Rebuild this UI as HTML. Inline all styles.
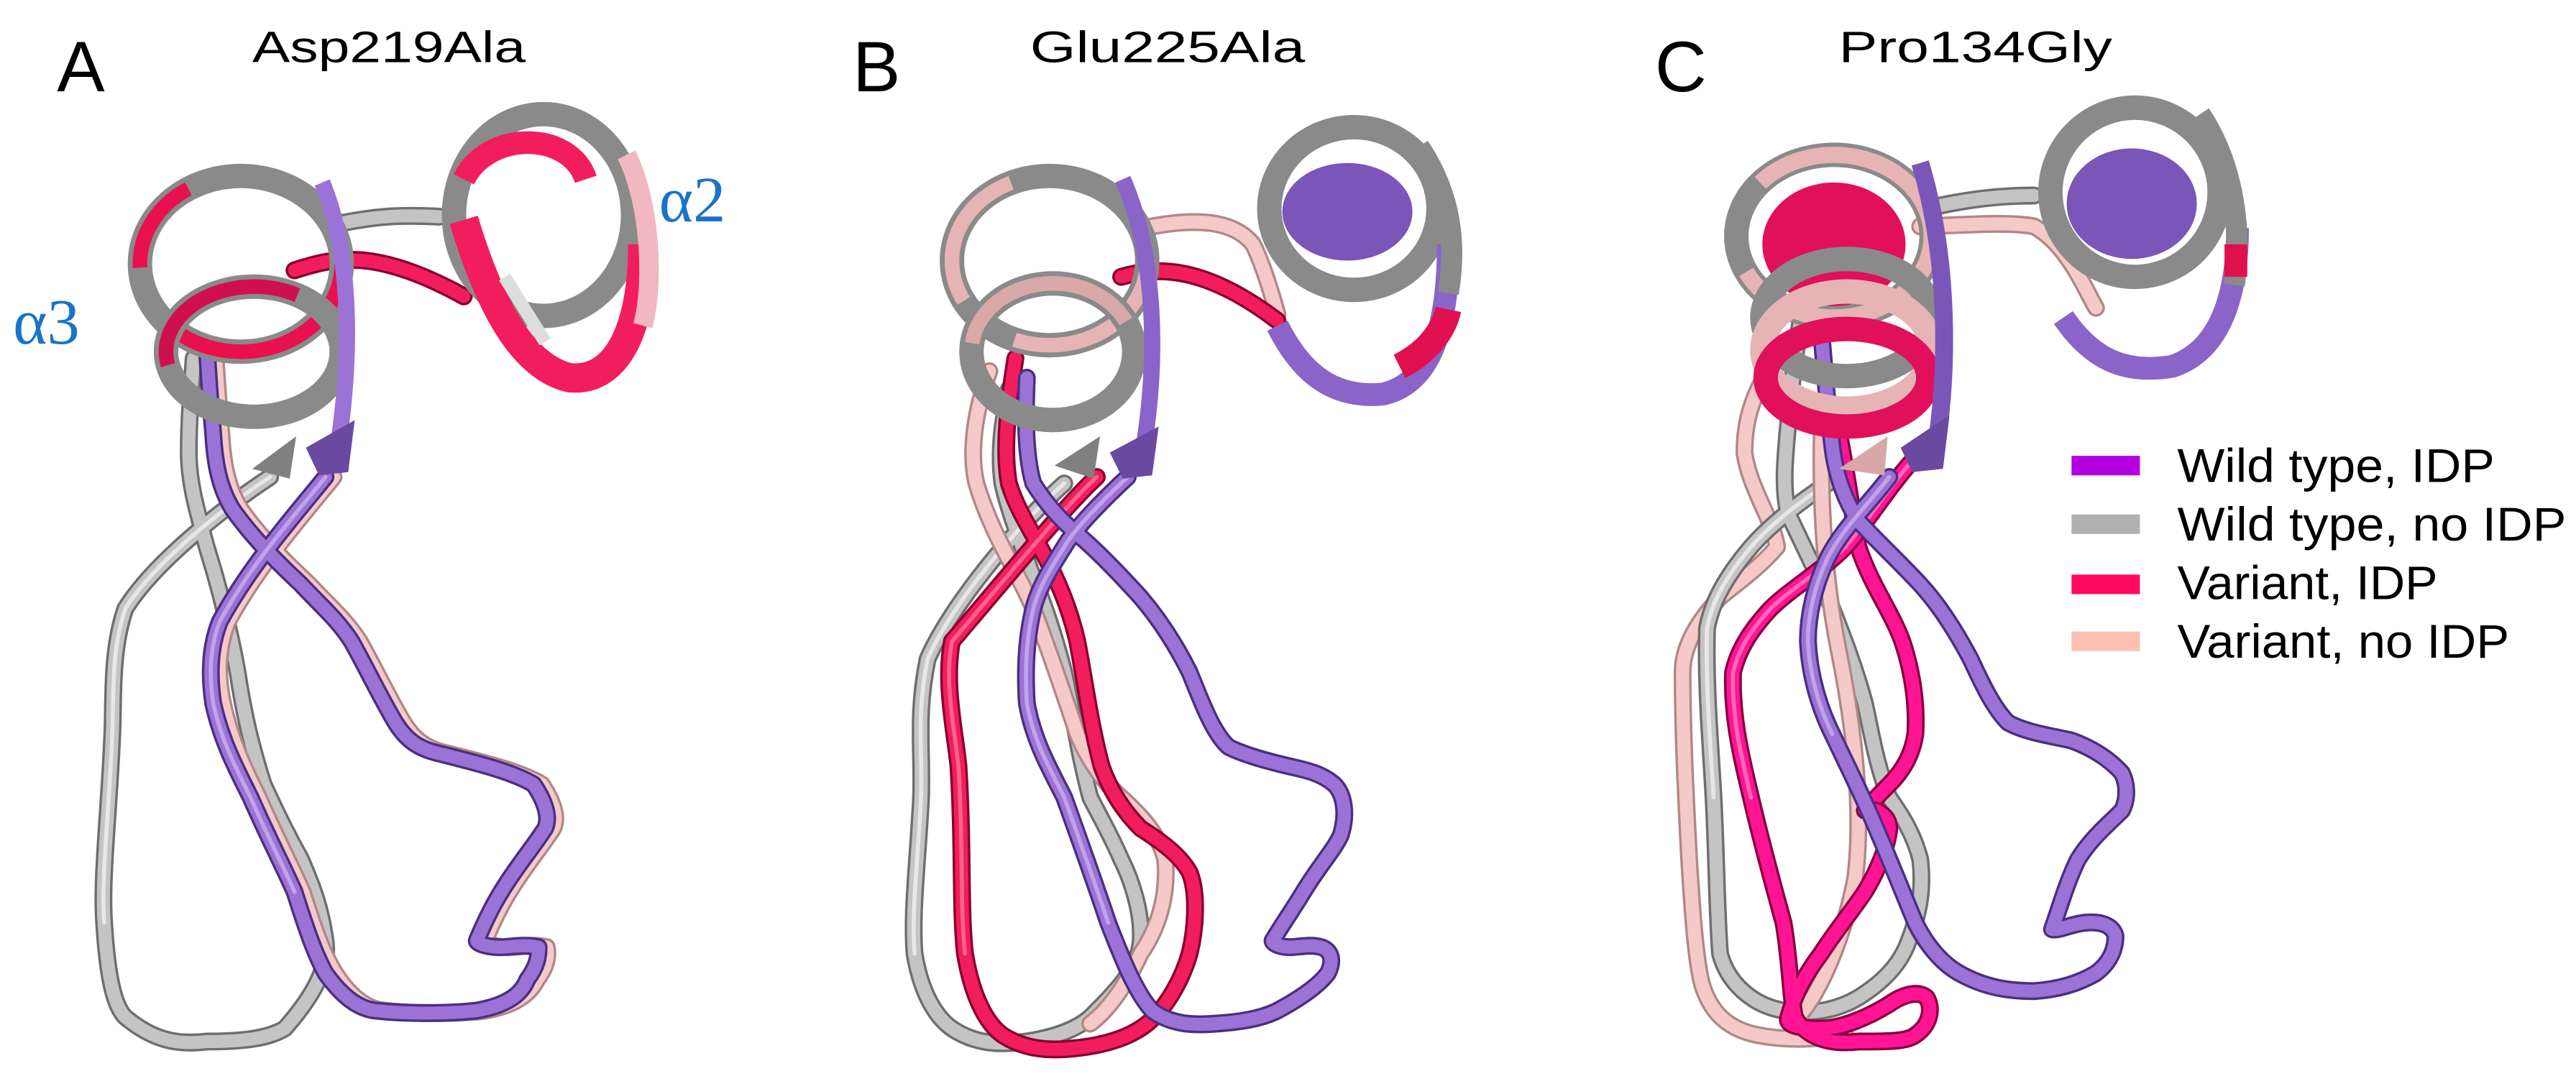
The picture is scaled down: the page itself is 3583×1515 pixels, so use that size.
<!DOCTYPE html>
<html><head><meta charset="utf-8"><style>
html,body{margin:0;padding:0;background:#fff;overflow:hidden}
svg{display:block}
.o{fill:none;stroke-linecap:round;stroke-linejoin:round;stroke-width:11}
.m{fill:none;stroke-linecap:round;stroke-linejoin:round;stroke-width:8}
.h{fill:none;stroke-linecap:round;stroke-linejoin:round;stroke-width:2.5;opacity:.6}
.g .o{stroke:#6e6e6e}.g .m{stroke:#c4c4c4}.g .h{stroke:#fff}
.p .o{stroke:#4a2f80}.p .m{stroke:#9b72d6}.p .h{stroke:#d8c4f5}
.r .o{stroke:#8a0030}.r .m{stroke:#f21d5c}.r .h{stroke:#ff8fb0}
.q .o{stroke:#8a0040}.q .m{stroke:#ff1493}.q .h{stroke:#ff9fd0}
.k .o{stroke:#b08888}.k .m{stroke:#f6c9c9}.k .h{stroke:#fff}
.t{font-family:"Liberation Sans",sans-serif;fill:#000}
.hl{fill:none;stroke-width:15}
</style></head><body>
<svg width="3583" height="1515" viewBox="0 0 1583 669" xmlns="http://www.w3.org/2000/svg">

<!-- ===== Panel A ===== -->
<g class="g"><path class="o" d="M210,137 C235,132 250,132 270,133"/><path class="m" d="M210,137 C235,132 250,132 270,133"/></g>
<g class="r"><path class="o" d="M181,166 C205,158 231,152 285,182"/><path class="m" d="M181,166 C205,158 231,152 285,182"/></g>
<g class="g"><path class="o" d="M166,293 C140,310 95,345 77,374 C68,400 70,430 69,451 C67,500 62,540 64,567 C66,600 70,618 77,625 C95,640 110,642 127,640 C150,640 165,638 175,632 C190,615 203,595 200,578 C197,555 190,540 185,528 C175,510 168,495 162,482 C155,460 150,440 146,413 C140,380 133,355 127,336 C120,310 116,295 116,278 C116,255 118,235 119,220"/><path class="m" d="M166,293 C140,310 95,345 77,374 C68,400 70,430 69,451 C67,500 62,540 64,567 C66,600 70,618 77,625 C95,640 110,642 127,640 C150,640 165,638 175,632 C190,615 203,595 200,578 C197,555 190,540 185,528 C175,510 168,495 162,482 C155,460 150,440 146,413 C140,380 133,355 127,336 C120,310 116,295 116,278 C116,255 118,235 119,220"/><path class="h" d="M166,293 C140,310 95,345 77,374 C68,400 70,430 69,451 C67,500 62,540 64,567"/></g>
<g class="k"><path class="o" d="M205,293 C190,312 160,345 140,382 C133,400 134,418 137,432 C142,455 150,472 159,490 C170,515 178,530 186,548 C193,570 198,585 206,598 C215,612 225,620 236,621 C255,623 280,623 298,621 C315,618 325,612 330,602 C336,594 337,588 336,582 C327,580 318,582 312,582 C304,582 298,580 298,578 C303,566 308,556 313,548 C322,533 333,520 340,509 C344,500 337,488 333,482 C320,474 295,468 275,463 C262,460 255,455 248,444 C238,427 230,410 221,394 C212,380 200,370 190,359 C175,345 160,330 148,313 C140,300 137,285 136,266 C134,245 133,228 132,212"/><path class="m" d="M205,293 C190,312 160,345 140,382 C133,400 134,418 137,432 C142,455 150,472 159,490 C170,515 178,530 186,548 C193,570 198,585 206,598 C215,612 225,620 236,621 C255,623 280,623 298,621 C315,618 325,612 330,602 C336,594 337,588 336,582 C327,580 318,582 312,582 C304,582 298,580 298,578 C303,566 308,556 313,548 C322,533 333,520 340,509 C344,500 337,488 333,482 C320,474 295,468 275,463 C262,460 255,455 248,444 C238,427 230,410 221,394 C212,380 200,370 190,359 C175,345 160,330 148,313 C140,300 137,285 136,266 C134,245 133,228 132,212"/></g>
<g class="p"><path class="o" d="M200,293 C185,312 155,345 135,382 C128,400 129,418 131,432 C136,455 145,472 154,490 C165,515 173,530 181,548 C188,570 193,585 200,598 C210,612 220,620 231,621 C250,623 275,623 293,621 C310,618 320,612 324,602 C330,594 331,588 331,582 C322,580 313,582 308,582 C300,582 293,580 293,578 C298,566 303,556 308,548 C317,533 328,520 335,509 C339,500 332,488 328,482 C315,474 290,468 270,463 C257,460 250,455 243,444 C233,427 225,410 216,394 C207,380 195,370 185,359 C170,345 155,330 143,313 C135,300 132,285 131,266 C129,245 128,228 127,212"/><path class="m" d="M200,293 C185,312 155,345 135,382 C128,400 129,418 131,432 C136,455 145,472 154,490 C165,515 173,530 181,548 C188,570 193,585 200,598 C210,612 220,620 231,621 C250,623 275,623 293,621 C310,618 320,612 324,602 C330,594 331,588 331,582 C322,580 313,582 308,582 C300,582 293,580 293,578 C298,566 303,556 308,548 C317,533 328,520 335,509 C339,500 332,488 328,482 C315,474 290,468 270,463 C257,460 250,455 243,444 C233,427 225,410 216,394 C207,380 195,370 185,359 C170,345 155,330 143,313 C135,300 132,285 131,266 C129,245 128,228 127,212"/><path class="h" d="M200,293 C185,312 155,345 135,382 C128,400 129,418 131,432 C136,455 145,472 154,490 C165,515 173,530 181,548"/></g>
<ellipse cx="148" cy="162" rx="62" ry="54" class="hl" stroke="#8a8a8a"/>
<ellipse cx="148" cy="162" rx="62" ry="54" fill="none" stroke="#e8104e" stroke-width="9" stroke-dasharray="130 50 60 200"/>
<ellipse cx="156" cy="216" rx="54" ry="40" class="hl" stroke="#8a8a8a"/>
<ellipse cx="156" cy="216" rx="54" ry="40" fill="none" stroke="#d0104e" stroke-width="9" stroke-dasharray="0 140 110 200"/>
<path d="M198,112 C218,160 216,230 205,290" fill="none" stroke="#9b72d6" stroke-width="10"/>
<polygon points="188,275 218,258 214,290 196,292" fill="#6a4aa0"/>
<polygon points="155,288 182,268 178,294" fill="#808080"/>
<ellipse cx="334" cy="132" rx="55" ry="62" class="hl" stroke="#8a8a8a"/>
<path d="M285,135 C300,185 320,225 350,232 C380,235 395,200 395,150" fill="none" stroke="#f21d5c" stroke-width="18"/>
<path d="M285,110 C300,80 350,80 360,110" fill="none" stroke="#f21d5c" stroke-width="14"/>
<path d="M385,95 C400,125 402,175 395,200" fill="none" stroke="#f2b8c0" stroke-width="12"/>
<path d="M310,170 L335,210" stroke="#ddd" stroke-width="8"/>

<!-- ===== Panel B ===== -->
<g class="k"><path class="o" d="M708,139 C735,134 758,135 770,150 C775,160 780,175 785,193"/><path class="m" d="M708,139 C735,134 758,135 770,150 C775,160 780,175 785,193"/></g>
<g class="r"><path class="o" d="M689,170 C710,164 739,162 785,197"/><path class="m" d="M689,170 C710,164 739,162 785,197"/></g>
<g class="g"><path class="o" d="M654,297 C630,318 585,370 570,405 C563,440 567,460 566,490 C564,530 560,560 562,586 C566,610 575,625 585,632 C600,642 615,642 631,640 C650,637 662,632 670,625 C685,610 700,595 701,578 C702,560 695,540 689,528 C682,512 675,500 670,490 C662,460 660,440 654,413 C648,390 642,372 635,355 C628,335 620,315 616,297 C613,275 617,255 620,239"/><path class="m" d="M654,297 C630,318 585,370 570,405 C563,440 567,460 566,490 C564,530 560,560 562,586 C566,610 575,625 585,632 C600,642 615,642 631,640 C650,637 662,632 670,625 C685,610 700,595 701,578 C702,560 695,540 689,528 C682,512 675,500 670,490 C662,460 660,440 654,413 C648,390 642,372 635,355 C628,335 620,315 616,297 C613,275 617,255 620,239"/><path class="h" d="M654,297 C630,318 585,370 570,405 C563,440 567,460 566,490 C564,530 560,560 562,586"/></g>
<g class="k"><path class="o" d="M608,228 C598,255 596,280 600,297 C610,330 625,350 635,374 C645,400 655,430 662,451 C670,470 680,482 689,490 C700,500 712,512 716,528 C718,550 712,570 701,586 C692,605 682,620 670,629"/><path class="m" d="M608,228 C598,255 596,280 600,297 C610,330 625,350 635,374 C645,400 655,430 662,451 C670,470 680,482 689,490 C700,500 712,512 716,528 C718,550 712,570 701,586 C692,605 682,620 670,629"/></g>
<g class="r"><path class="o" d="M674,293 C655,310 610,365 585,394 C580,420 587,450 589,471 C592,520 590,560 593,586 C597,610 605,628 616,636 C630,645 645,646 662,644 C680,642 695,637 705,629 C718,618 727,600 731,586 C735,570 736,548 731,536 C725,525 712,516 701,509 C690,498 682,485 677,471 C670,445 667,420 662,394 C657,372 648,352 639,336 C630,320 624,310 620,297 C616,275 620,245 624,220"/><path class="m" d="M674,293 C655,310 610,365 585,394 C580,420 587,450 589,471 C592,520 590,560 593,586 C597,610 605,628 616,636 C630,645 645,646 662,644 C680,642 695,637 705,629 C718,618 727,600 731,586 C735,570 736,548 731,536 C725,525 712,516 701,509 C690,498 682,485 677,471 C670,445 667,420 662,394 C657,372 648,352 639,336 C630,320 624,310 620,297 C616,275 620,245 624,220"/><path class="h" d="M674,293 C655,310 610,365 585,394 C580,420 587,450 589,471 C592,520 590,560 593,586"/></g>
<g class="p"><path class="o" d="M693,293 C680,305 660,325 654,336 C645,350 638,362 635,374 C630,395 630,415 631,432 C635,455 645,472 654,490 C663,515 672,540 681,567 C690,590 698,610 708,621 C720,630 735,630 747,629 C762,628 775,626 785,621 C798,614 810,606 816,598 C820,590 818,584 812,582 C805,580 798,582 793,582 C787,582 782,580 782,578 C788,568 795,558 801,548 C810,533 820,522 824,513 C828,500 826,488 820,482 C812,475 802,473 793,471 C780,468 765,464 755,459 C745,450 738,430 731,413 C722,395 712,380 701,367 C690,355 676,340 662,328 C650,318 642,308 635,297 C630,280 630,255 631,232"/><path class="m" d="M693,293 C680,305 660,325 654,336 C645,350 638,362 635,374 C630,395 630,415 631,432 C635,455 645,472 654,490 C663,515 672,540 681,567 C690,590 698,610 708,621 C720,630 735,630 747,629 C762,628 775,626 785,621 C798,614 810,606 816,598 C820,590 818,584 812,582 C805,580 798,582 793,582 C787,582 782,580 782,578 C788,568 795,558 801,548 C810,533 820,522 824,513 C828,500 826,488 820,482 C812,475 802,473 793,471 C780,468 765,464 755,459 C745,450 738,430 731,413 C722,395 712,380 701,367 C690,355 676,340 662,328 C650,318 642,308 635,297 C630,280 630,255 631,232"/><path class="h" d="M693,293 C680,305 660,325 654,336 C645,350 638,362 635,374 C630,395 630,415 631,432 C635,455 645,472 654,490 C663,515 672,540 681,567"/></g>
<ellipse cx="645" cy="160" rx="60" ry="52" class="hl" stroke="#8a8a8a"/>
<ellipse cx="645" cy="160" rx="60" ry="52" fill="none" stroke="#e6b4b4" stroke-width="9" stroke-dasharray="110 40 90 200"/>
<ellipse cx="647" cy="216" rx="50" ry="42" class="hl" stroke="#8a8a8a"/>
<ellipse cx="647" cy="216" rx="50" ry="42" fill="none" stroke="#d9a8a8" stroke-width="9" stroke-dasharray="0 150 120 200"/>
<path d="M690,110 C712,160 712,230 700,290" fill="none" stroke="#8a64c8" stroke-width="10"/>
<polygon points="682,278 712,262 708,292 690,294" fill="#6a4aa0"/>
<polygon points="648,286 676,268 672,294" fill="#808080"/>
<ellipse cx="832" cy="128" rx="52" ry="50" class="hl" stroke="#8a8a8a"/>
<ellipse cx="828" cy="130" rx="40" ry="30" fill="#7a56b8"/>
<path d="M785,200 C800,230 820,245 850,242 C880,235 890,200 890,150" fill="none" stroke="#8a64c8" stroke-width="14"/>
<path d="M860,225 C880,215 888,200 890,190" fill="none" stroke="#e0104e" stroke-width="16"/>
<path d="M872,90 C892,120 895,150 890,180" fill="none" stroke="#8a8a8a" stroke-width="13"/>

<!-- ===== Panel C ===== -->
<g class="g"><path class="o" d="M1184,128 C1210,122 1230,120 1250,120"/><path class="m" d="M1184,128 C1210,122 1230,120 1250,120"/></g>
<g class="k"><path class="o" d="M1180,139 C1210,138 1235,136 1250,139 C1270,150 1280,175 1288,189"/><path class="m" d="M1180,139 C1210,138 1235,136 1250,139 C1270,150 1280,175 1288,189"/></g>
<g class="k"><path class="o" d="M1084,232 C1074,250 1072,265 1072,278 C1075,300 1090,320 1092,336 C1080,350 1065,360 1057,367 C1040,385 1034,400 1034,413 C1034,450 1036,490 1038,528 C1040,560 1042,590 1046,605 C1052,625 1065,633 1080,636 C1100,640 1118,638 1134,636"/><path class="m" d="M1084,232 C1074,250 1072,265 1072,278 C1075,300 1090,320 1092,336 C1080,350 1065,360 1057,367 C1040,385 1034,400 1034,413 C1034,450 1036,490 1038,528 C1040,560 1042,590 1046,605 C1052,625 1065,633 1080,636 C1100,640 1118,638 1134,636"/></g>
<g class="g"><path class="o" d="M1134,290 C1110,305 1090,320 1076,336 C1060,355 1052,370 1049,386 C1048,420 1051,455 1053,490 C1055,530 1055,560 1057,586 C1062,605 1078,618 1096,621 C1115,624 1130,620 1142,613 C1158,603 1168,592 1173,578 C1180,560 1182,545 1180,528 C1176,512 1168,500 1161,490 C1153,470 1150,450 1146,432 C1140,410 1133,392 1126,374 C1118,355 1108,335 1099,316 C1095,300 1097,280 1099,259 C1101,235 1104,212 1107,193"/><path class="m" d="M1134,290 C1110,305 1090,320 1076,336 C1060,355 1052,370 1049,386 C1048,420 1051,455 1053,490 C1055,530 1055,560 1057,586 C1062,605 1078,618 1096,621 C1115,624 1130,620 1142,613 C1158,603 1168,592 1173,578 C1180,560 1182,545 1180,528 C1176,512 1168,500 1161,490 C1153,470 1150,450 1146,432 C1140,410 1133,392 1126,374 C1118,355 1108,335 1099,316 C1095,300 1097,280 1099,259 C1101,235 1104,212 1107,193"/><path class="h" d="M1134,290 C1110,305 1090,320 1076,336 C1060,355 1052,370 1049,386 C1048,420 1051,455 1053,490"/></g>
<g class="k"><path class="o" d="M1120,250 C1118,300 1120,350 1130,400 C1140,450 1145,500 1140,540 C1132,580 1118,610 1105,625"/><path class="m" d="M1120,250 C1118,300 1120,350 1130,400 C1140,450 1145,500 1140,540 C1132,580 1118,610 1105,625"/></g>
<g class="q"><path class="o" d="M1130,266 C1135,290 1138,315 1142,336 C1150,360 1162,375 1169,394 C1176,415 1178,435 1177,451 C1175,465 1168,475 1161,482 C1155,488 1150,493 1146,498"/><path class="m" d="M1130,266 C1135,290 1138,315 1142,336 C1150,360 1162,375 1169,394 C1176,415 1178,435 1177,451 C1175,465 1168,475 1161,482 C1155,488 1150,493 1146,498"/></g>
<g class="q"><path class="o" d="M1176,282 C1160,300 1148,320 1134,336 C1118,352 1100,362 1088,374 C1075,388 1068,400 1065,413 C1064,440 1070,465 1076,490 C1083,520 1090,545 1096,567 C1100,590 1100,610 1103,625 C1110,638 1125,642 1142,640 C1160,640 1172,640 1177,636 C1186,630 1188,620 1184,613 C1178,608 1168,612 1161,617 C1148,625 1132,632 1119,632 C1105,632 1097,630 1099,625 C1103,610 1110,598 1119,586 C1128,572 1138,560 1146,548 C1154,535 1160,520 1161,509 C1161,503 1157,500 1153,498"/><path class="m" d="M1176,282 C1160,300 1148,320 1134,336 C1118,352 1100,362 1088,374 C1075,388 1068,400 1065,413 C1064,440 1070,465 1076,490 C1083,520 1090,545 1096,567 C1100,590 1100,610 1103,625 C1110,638 1125,642 1142,640 C1160,640 1172,640 1177,636 C1186,630 1188,620 1184,613 C1178,608 1168,612 1161,617 C1148,625 1132,632 1119,632 C1105,632 1097,630 1099,625 C1103,610 1110,598 1119,586 C1128,572 1138,560 1146,548 C1154,535 1160,520 1161,509 C1161,503 1157,500 1153,498"/><path class="h" d="M1176,282 C1160,300 1148,320 1134,336 C1118,352 1100,362 1088,374 C1075,388 1068,400 1065,413 C1064,440 1070,465 1076,490"/></g>
<g class="p"><path class="o" d="M1161,293 C1148,310 1132,325 1123,343 C1115,360 1111,378 1111,394 C1112,415 1118,435 1126,451 C1135,470 1145,490 1153,509 C1162,530 1170,550 1177,567 C1185,583 1195,593 1204,598 C1220,607 1235,609 1250,609 C1265,608 1278,604 1288,598 C1296,592 1300,584 1300,575 C1298,568 1290,566 1281,567 C1272,568 1265,572 1261,571 C1265,560 1270,542 1277,528 C1285,515 1296,506 1304,498 C1308,490 1307,481 1304,475 C1295,465 1284,459 1273,455 C1260,452 1245,450 1234,444 C1225,435 1218,420 1211,405 C1202,388 1192,372 1180,359 C1168,346 1154,333 1142,320 C1134,308 1128,292 1126,274 C1123,250 1121,225 1119,201"/><path class="m" d="M1161,293 C1148,310 1132,325 1123,343 C1115,360 1111,378 1111,394 C1112,415 1118,435 1126,451 C1135,470 1145,490 1153,509 C1162,530 1170,550 1177,567 C1185,583 1195,593 1204,598 C1220,607 1235,609 1250,609 C1265,608 1278,604 1288,598 C1296,592 1300,584 1300,575 C1298,568 1290,566 1281,567 C1272,568 1265,572 1261,571 C1265,560 1270,542 1277,528 C1285,515 1296,506 1304,498 C1308,490 1307,481 1304,475 C1295,465 1284,459 1273,455 C1260,452 1245,450 1234,444 C1225,435 1218,420 1211,405 C1202,388 1192,372 1180,359 C1168,346 1154,333 1142,320 C1134,308 1128,292 1126,274 C1123,250 1121,225 1119,201"/><path class="h" d="M1161,293 C1148,310 1132,325 1123,343 C1115,360 1111,378 1111,394 C1112,415 1118,435 1126,451"/></g>
<ellipse cx="1127" cy="145" rx="60" ry="50" class="hl" stroke="#8a8a8a"/>
<ellipse cx="1127" cy="150" rx="44" ry="38" fill="#e0105a"/>
<ellipse cx="1127" cy="145" rx="60" ry="50" fill="none" stroke="#e6b4b4" stroke-width="10" stroke-dasharray="150 60"/>
<ellipse cx="1135" cy="195" rx="52" ry="36" class="hl" stroke="#8a8a8a"/>
<ellipse cx="1135" cy="215" rx="52" ry="36" class="hl" stroke="#e6b4b4"/>
<ellipse cx="1135" cy="232" rx="50" ry="30" class="hl" stroke="#e0105a"/>
<path d="M1180,100 C1198,160 1198,230 1188,285" fill="none" stroke="#7a56b8" stroke-width="11"/>
<polygon points="1168,275 1198,255 1194,288 1175,290" fill="#6a4aa0"/>
<polygon points="1130,288 1160,268 1158,292" fill="#d8a8a8"/>
<ellipse cx="1312" cy="118" rx="52" ry="52" class="hl" stroke="#8a8a8a"/>
<ellipse cx="1310" cy="125" rx="40" ry="34" fill="#7a56b8"/>
<path d="M1268,195 C1285,220 1305,230 1335,225 C1365,215 1375,180 1375,140" fill="none" stroke="#8a64c8" stroke-width="14"/>
<path d="M1352,70 C1372,100 1378,140 1373,175" fill="none" stroke="#8a8a8a" stroke-width="13"/>
<path d="M1374,150 L1374,170" stroke="#e0104e" stroke-width="14"/>

<!-- Labels -->
<text class="t" x="35" y="56" font-size="44">A</text>
<text class="t" x="155" y="38" font-size="27" textLength="168" lengthAdjust="spacingAndGlyphs">Asp219Ala</text>
<text class="t" x="524" y="56" font-size="44">B</text>
<text class="t" x="633" y="38" font-size="27" textLength="169" lengthAdjust="spacingAndGlyphs">Glu225Ala</text>
<text class="t" x="1017" y="56" font-size="44">C</text>
<text class="t" x="1130" y="38" font-size="27" textLength="168" lengthAdjust="spacingAndGlyphs">Pro134Gly</text>
<text x="8" y="211" font-size="40" fill="#1a73c9" font-family="Liberation Serif,serif">α3</text>
<text x="405" y="136" font-size="40" fill="#1a73c9" font-family="Liberation Serif,serif">α2</text>

<!-- Legend -->
<rect x="1273" y="280" width="42" height="12" fill="#b400e0"/>
<rect x="1273" y="316" width="42" height="12" fill="#b0b0b0"/>
<rect x="1273" y="353" width="42" height="12" fill="#ff0a60"/>
<rect x="1273" y="388" width="42" height="12" fill="#fbc0b0"/>
<text class="t" x="1338" y="296" font-size="29" textLength="195" lengthAdjust="spacingAndGlyphs">Wild type, IDP</text>
<text class="t" x="1338" y="332" font-size="29" textLength="239" lengthAdjust="spacingAndGlyphs">Wild type, no IDP</text>
<text class="t" x="1338" y="368" font-size="29" textLength="160" lengthAdjust="spacingAndGlyphs">Variant, IDP</text>
<text class="t" x="1338" y="404" font-size="29" textLength="204" lengthAdjust="spacingAndGlyphs">Variant, no IDP</text>
</svg>
</body></html>
